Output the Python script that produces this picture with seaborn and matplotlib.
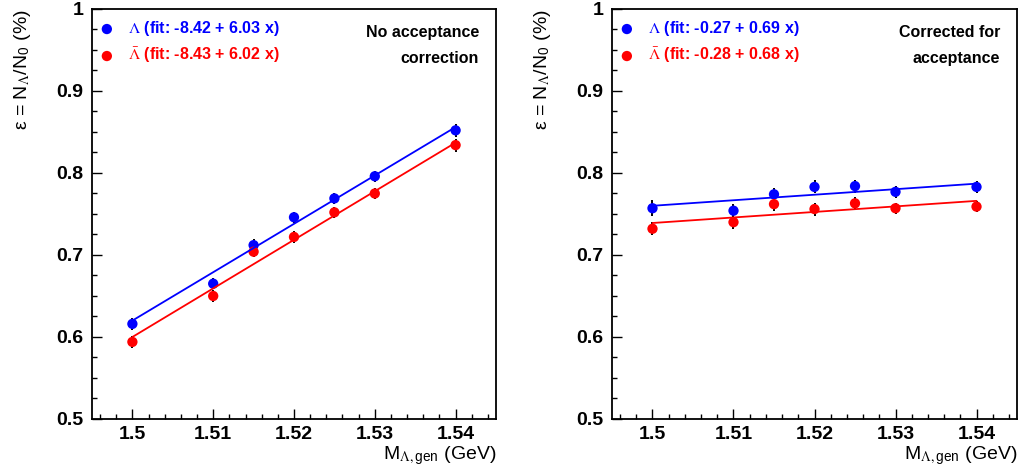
import matplotlib
matplotlib.use("Agg")
import matplotlib.pyplot as plt
import seaborn as sns
from matplotlib.ticker import MultipleLocator, FuncFormatter

# generated mass points (GeV)
mass = [1.5, 1.51, 1.515, 1.52, 1.525, 1.53, 1.54]

# no acceptance correction
raw_lam = [0.616, 0.665, 0.712, 0.746, 0.769, 0.796, 0.852]
raw_alam = [0.594, 0.650, 0.704, 0.722, 0.752, 0.775, 0.834]
raw_lam_err = [0.007, 0.007, 0.007, 0.007, 0.007, 0.007, 0.008]
raw_alam_err = [0.007, 0.007, 0.007, 0.007, 0.007, 0.007, 0.008]

# corrected for acceptance
cor_lam = [0.757, 0.754, 0.774, 0.783, 0.784, 0.777, 0.783]
cor_alam = [0.732, 0.740, 0.762, 0.756, 0.763, 0.757, 0.759]
cor_lam_err = [0.010, 0.008, 0.008, 0.008, 0.008, 0.007, 0.007]
cor_alam_err = [0.008, 0.008, 0.008, 0.008, 0.008, 0.007, 0.007]

# fit lines, end points
fit_x = [1.5, 1.54]
raw_lam_fit = [0.620, 0.856]
raw_alam_fit = [0.600, 0.837]
cor_lam_fit = [0.760, 0.787]
cor_alam_fit = [0.739, 0.766]

raw_labels = [r"$\Lambda$ (fit: -8.42 + 6.03 x)", r"$\bar{\Lambda}$ (fit: -8.43 + 6.02 x)"]
cor_labels = [r"$\Lambda$ (fit: -0.27 + 0.69 x)", r"$\bar{\Lambda}$ (fit: -0.28 + 0.68 x)"]
raw_note = ["No acceptance", "correction"]
cor_note = ["Corrected for", "acceptance"]

sns.set_theme(style="white")
plt.rcParams['font.family'] = ['Liberation Sans', 'DejaVu Sans']
plt.rcParams['mathtext.fontset'] = 'stix'

BLUE = (0, 0, 1)
RED = (1, 0, 0)


def draw_panel(ax, lam, alam, lam_err, alam_err, lam_fit, alam_fit, labels, note):
    for y, err, fit, col, lab in [(lam, lam_err, lam_fit, BLUE, labels[0]),
                                  (alam, alam_err, alam_fit, RED, labels[1])]:
        ax.errorbar(mass, y, yerr=err, fmt='none', ecolor='black',
                    elinewidth=1.4, capsize=0, zorder=2)
        sns.scatterplot(x=mass, y=y, ax=ax, color=col, s=55, edgecolor='none',
                        zorder=3, label=lab)
        sns.lineplot(x=fit_x, y=fit, ax=ax, color=col, linewidth=1.3, zorder=4)

    ax.set_xlim(1.495, 1.545)
    ax.set_ylim(0.5, 1.0)
    ax.xaxis.set_major_locator(MultipleLocator(0.01))
    ax.xaxis.set_minor_locator(MultipleLocator(0.002))
    ax.yaxis.set_major_locator(MultipleLocator(0.1))
    ax.yaxis.set_minor_locator(MultipleLocator(0.025))
    fmt = FuncFormatter(lambda v, p: "%g" % round(v, 4))
    ax.xaxis.set_major_formatter(fmt)
    ax.yaxis.set_major_formatter(fmt)
    ax.tick_params(which='both', direction='in', top=False, right=False,
                   bottom=True, left=True, color='black', width=1.0,
                   labelcolor='black')
    ax.tick_params(which='major', length=7)
    ax.tick_params(which='minor', length=3.5)
    ax.tick_params(axis='y', which='major', pad=6)
    ax.tick_params(axis='x', which='major', pad=5)
    for t in ax.get_xticklabels() + ax.get_yticklabels():
        t.set_fontweight('bold')
        t.set_fontsize(14)
    for s in ax.spines.values():
        s.set_color('black')
        s.set_linewidth(1.3)

    ax.set_ylabel(r"ε = N$_{\Lambda}$/N$_{\mathregular{0}}$ (%)",
                  fontsize=14, loc='top', color='black')
    ax.yaxis.set_label_coords(-0.145, 1.0)
    ax.set_xlabel(r"M$_{\Lambda,\mathregular{gen}}$ (GeV)", fontsize=14,
                  loc='right', color='black')
    ax.xaxis.set_label_coords(1.0, -0.062)

    ax.legend(loc='upper left', bbox_to_anchor=(0.017, 0.975), frameon=False,
              borderpad=0, borderaxespad=0, handlelength=1.0, handletextpad=0.8,
              labelspacing=0.45, labelcolor=[BLUE, RED],
              prop={'weight': 'bold', 'size': 11.5})

    ax.text(0.958, 0.9415, note[0], transform=ax.transAxes, ha='right',
            va='center', fontsize=11.5, fontweight='bold', color='black')
    ax.text(0.958, 0.880, note[1], transform=ax.transAxes, ha='right',
            va='center', fontsize=11.5, fontweight='bold', color='black')


fig = plt.figure(figsize=(10.21, 4.75), dpi=100)
ax1 = fig.add_axes([0.0901, 0.1179, 0.3957, 0.8632])
ax2 = fig.add_axes([0.5994, 0.1179, 0.3967, 0.8632])

draw_panel(ax1, raw_lam, raw_alam, raw_lam_err, raw_alam_err,
           raw_lam_fit, raw_alam_fit, raw_labels, raw_note)
draw_panel(ax2, cor_lam, cor_alam, cor_lam_err, cor_alam_err,
           cor_lam_fit, cor_alam_fit, cor_labels, cor_note)

fig.savefig("out.png", dpi=100, facecolor='white')
